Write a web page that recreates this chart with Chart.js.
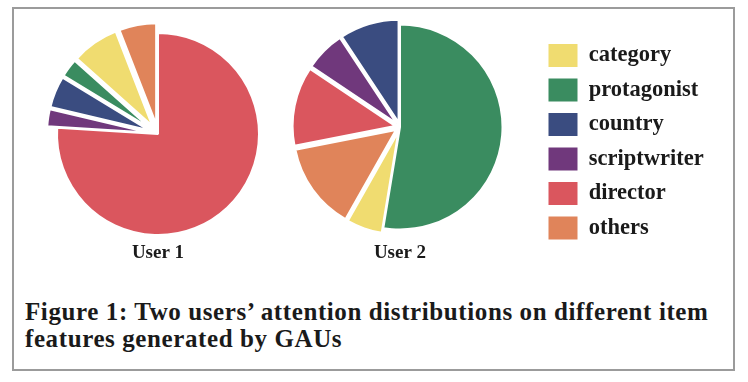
<!DOCTYPE html>
<html>
<head>
<meta charset="utf-8">
<script src="https://cdn.jsdelivr.net/npm/chart.js@4.4.1/dist/chart.umd.min.js"></script>
<style>
  html, body { margin: 0; padding: 0; background: #ffffff; }
  body { width: 748px; height: 382px; position: relative; overflow: hidden; }
  #frame { position: absolute; left: 12px; top: 7px; width: 719px; height: 360px; border: 2px solid #9b9b9b; }
  .wrap { position: absolute; top: 0; height: 270px; }
  #w1 { left: 40px; width: 236px; }
  #w2 { left: 250px; width: 498px; }
  #caption {
    position: absolute; left: 25px; top: 298px; white-space: nowrap;
    font-family: "Liberation Serif", serif; font-weight: bold; font-size: 25px;
    line-height: 27px; letter-spacing: 0.6px; color: #1a1a1a;
  }
</style>
</head>
<body>
<div id="frame"></div>
<div class="wrap" id="w1"><canvas id="c1"></canvas></div>
<div class="wrap" id="w2"><canvas id="c2"></canvas></div>
<div id="caption">Figure 1: Two users’ attention distributions on different item<br>features generated by GAUs</div>
<script>
// ---- data (legend order) ----
const categories = ['category', 'protagonist', 'country', 'scriptwriter', 'director', 'others'];
const user1Values = [7.5, 2.9, 5.0, 2.7, 76.0, 5.9];
const user2Values = [5.6, 52.6, 9.3, 6.3, 12.5, 13.7];
const chartTitles = ['User 1', 'User 2'];
const colors = ['#F0DC70', '#3A8C60', '#3A4C80', '#70387C', '#DA565E', '#E0845A'];

// ---- styles ----
const FONT = '"Liberation Serif", serif';
const TEXT = '#1a1a1a';
const legendFontSize = 22.5, legendBox = 29, legendBoxH = 23, legendPad = 11.5;

// The reference draws slices counter-clockwise in legend order; Chart.js draws
// clockwise, so feed the data reversed and reverse the legend back.
const rev = a => a.slice().reverse();
const drawLabels = rev(categories);
const drawColors = rev(colors);

// small slices pulled out from the centre (style)
const explodePlugin = {
  id: 'explode',
  afterUpdate(chart, args, opts) {
    const shifts = opts.shifts || [];
    chart.getDatasetMeta(0).data.forEach((arc, i) => {
      const d = shifts[i] || 0;
      const mid = (arc.startAngle + arc.endAngle) / 2;
      arc.x += d * Math.cos(mid);
      arc.y += d * Math.sin(mid);
    });
  }
};

function rotationFor(values, bigLabel) {
  const v = rev(values);
  const total = v.reduce((s, x) => s + x, 0);
  const idx = drawLabels.indexOf(bigLabel);
  let before = 0;
  for (let i = 0; i < idx; i++) before += v[i];
  return -before / total * 360;
}

function titleOpts(text) {
  return {
    display: true, text, position: 'bottom', fullSize: false,
    color: TEXT, font: { family: FONT, size: 19, weight: 'bold', lineHeight: 1.2 },
    padding: { top: 4.1, bottom: 2.6 }
  };
}

// measure legend width so the legend boxes land where they should
const mctx = document.createElement('canvas').getContext('2d');
mctx.font = 'bold ' + legendFontSize + 'px ' + FONT;
const maxTextW = Math.max(...categories.map(t => mctx.measureText(t).width));
const legendW = legendPad + legendBox + legendFontSize / 2 + maxTextW + 10;
const legendLeft = 537; // absolute x
const pie2Cx = 400;
const w2Left = 250, w2Width = 498;
const pad2Left = 2 * pie2Cx - legendLeft - w2Left;
const pad2Right = (w2Left + w2Width) - (legendLeft + legendW);

new Chart(document.getElementById('c1'), {
  type: 'pie',
  data: {
    labels: drawLabels,
    datasets: [{
      data: rev(user1Values),
      backgroundColor: drawColors,
      borderColor: '#ffffff',
      borderWidth: 2,
      clip: false
    }]
  },
  options: {
    responsive: true, maintainAspectRatio: false, animation: false,
    radius: 101,
    rotation: rotationFor(user1Values, 'director'),
    layout: { padding: { top: 30, bottom: 2.5, left: 0, right: 0 } },
    plugins: {
      legend: { display: false },
      tooltip: { enabled: false },
      title: titleOpts(chartTitles[0]),
      explode: { shifts: drawLabels.map(l => l === 'director' ? 0 : 10) }
    }
  },
  plugins: [explodePlugin]
});

const defaultGen = Chart.overrides.pie.plugins.legend.labels.generateLabels;

new Chart(document.getElementById('c2'), {
  type: 'pie',
  data: {
    labels: drawLabels,
    datasets: [{
      data: rev(user2Values),
      backgroundColor: drawColors,
      borderColor: '#ffffff',
      borderWidth: 2,
      clip: false
    }]
  },
  options: {
    responsive: true, maintainAspectRatio: false, animation: false,
    radius: 102.5,
    rotation: rotationFor(user2Values, 'protagonist'),
    layout: { padding: { top: 16, bottom: 2.5, left: pad2Left, right: pad2Right } },
    plugins: {
      tooltip: { enabled: false },
      title: titleOpts(chartTitles[1]),
      legend: {
        display: true, position: 'right', reverse: true,
        labels: {
          boxWidth: legendBox, boxHeight: legendBoxH, padding: legendPad,
          color: TEXT,
          font: { family: FONT, size: legendFontSize, weight: 'bold' },
          generateLabels: chart => defaultGen(chart).map(l => Object.assign(l, { lineWidth: 0, strokeStyle: 'rgba(0,0,0,0)' }))
        }
      },
      explode: { shifts: drawLabels.map(l => l === 'protagonist' ? 0 : 5) }
    }
  },
  plugins: [explodePlugin]
});
</script>
</body>
</html>
